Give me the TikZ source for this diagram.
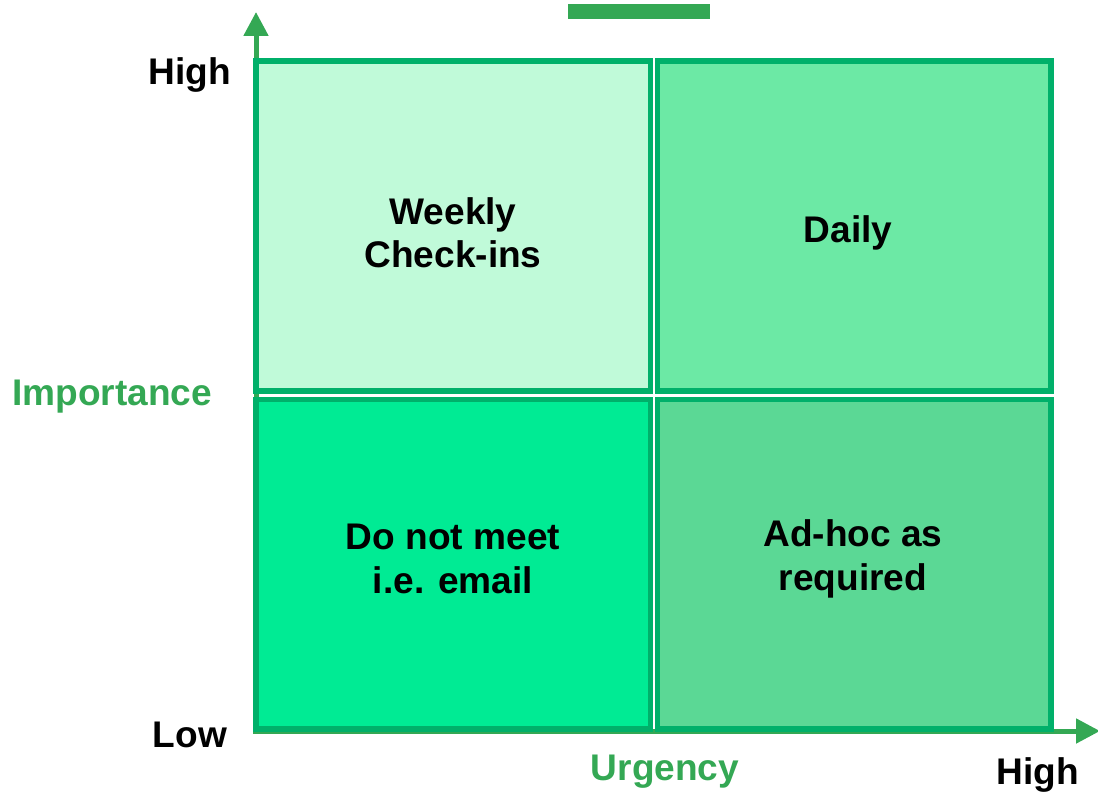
\documentclass[tikz,border=0pt]{standalone}
\usepackage{fontspec}
\setmainfont{Liberation Sans}
\usetikzlibrary{arrows.meta}
\definecolor{axisgreen}{RGB}{52,168,84}
\definecolor{boxborder}{RGB}{0,176,106}
\definecolor{fillA}{RGB}{192,250,217}
\definecolor{fillB}{RGB}{108,233,165}
\definecolor{fillC}{RGB}{0,235,148}
\definecolor{fillD}{RGB}{91,216,149}
\begin{document}
\begin{tikzpicture}[x=0.75pt,y=-0.75pt,
  axisline/.style={draw=axisgreen,line width=3.75pt,-{Triangle[length=18pt,width=18pt]}},
  quad/.style={draw=boxborder,line width=3.9pt},
  quadtext/.style={font=\bfseries\fontsize{27.8}{32.5}\selectfont,align=center,text=black},
  axlabel/.style={font=\bfseries\fontsize{27.8}{32.5}\selectfont,text=black},
  axname/.style={font=\bfseries\fontsize{27.8}{32.5}\selectfont,text=axisgreen}]
\useasboundingbox (0,0) rectangle (1098,792);
% axes
\coordinate (origin) at (256,733);
\coordinate (ytip) at (256,12);
\coordinate (xorigin) at (253,731);
\coordinate (xtip) at (1100,731);
\draw[axisline] (origin) -- (ytip);
\draw[axisline] (xorigin) -- (xtip);
% top bar
\fill[axisgreen] (568,4) rectangle (710,19);
% quadrants
\draw[quad,fill=fillA] (256,61) rectangle (650.5,391);
\draw[quad,fill=fillB] (657.5,61) rectangle (1051,391);
\draw[quad,fill=fillC] (256,399.5) rectangle (650.5,729);
\draw[quad,fill=fillD] (657.5,399.5) rectangle (1051,729);
% quadrant texts
\node[quadtext] (q1) at (453,233) {Weekly\\Check-ins};
\node[quadtext] (q2) at (848,233) {Daily};
\node[quadtext] (q3) at (453,559) {Do not meet\\i.e. email};
\node[quadtext] (q4) at (853,559) {Ad-hoc as\\required};
% axis labels
\node[axlabel] (yhigh) at (190,75) {High};
\node[axlabel] (ylow) at (190,735) {Low};
\node[axlabel] (xhigh) at (1038,775) {High};
\node[axname] (imp) at (112,397) {Importance};
\node[axname] (urg) at (665,772) {Urgency};
\end{tikzpicture}
\end{document}
